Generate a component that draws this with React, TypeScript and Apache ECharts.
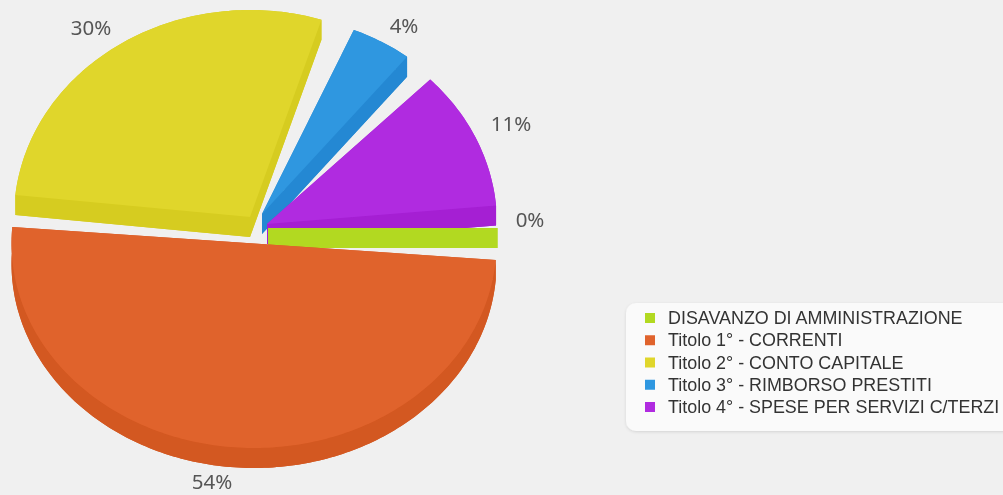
import React, { useEffect, useRef } from "react";
import * as echarts from "echarts";

// Data
const categories = [
  "DISAVANZO DI AMMINISTRAZIONE",
  "Titolo 1° - CORRENTI",
  "Titolo 2° - CONTO CAPITALE",
  "Titolo 3° - RIMBORSO PRESTITI",
  "Titolo 4° - SPESE PER SERVIZI C/TERZI",
];
const percentLabels = ["0%", "54%", "30%", "4%", "11%"];
// Drawn share of the pie of each slice (percent of the full turn), as it looks in the picture
const drawnShares = [0, 50, 28.2, 4.2, 11];

// Styles
const topColors = ["#B2D921", "#E0632C", "#E0D62B", "#2F97E0", "#B02BE0"];
const wallColors = ["#B2D921", "#D35821", "#D6CC20", "#2488D3", "#A51FD3"];

// Layout: where each exploded slice sits
const startAngles = [0, 4.6, 186.1, 293, 315.2];
const tipX = [268, 254, 250, 262, 267];
const tipY = [228, 243.5, 217, 214, 224];
const radX = [229.5, 242.5, 236, 235, 230];
const radY = [205, 204.5, 207, 200, 205];
const labelX = [530, 212, 91, 404, 511];
const labelY = [219, 481, 27, 25, 123];
const zOrder = [4, 5, 1, 2, 3];
const DEPTH = 20;

function App() {
  const ref = useRef<HTMLDivElement>(null);
  useEffect(() => {
    const chart = echarts.init(ref.current!, null, { renderer: "svg" });
    const makeRender = (i: number) => () => {
      const sweep = (drawnShares[i] / 100) * 360;
      const steps = Math.max(1, Math.ceil(sweep));
      const arc: [number, number][] = [];
      for (let s = 0; s <= steps; s++) {
        const a = ((startAngles[i] + (sweep * s) / steps) * Math.PI) / 180;
        arc.push([tipX[i] + radX[i] * Math.cos(a), tipY[i] + radY[i] * Math.sin(a)]);
      }
      const tip: [number, number] = [tipX[i], tipY[i]];
      const down = (p: [number, number]) => [p[0], p[1] + DEPTH];
      const wallStyle = { fill: wallColors[i] };
      const first = arc[0];
      const last = arc[arc.length - 1];
      const children: any[] = [
        { type: "polygon", shape: { points: [tip, ...arc].map(down) }, style: wallStyle },
        { type: "polygon", shape: { points: [tip, first, down(first), down(tip)] }, style: wallStyle },
        { type: "polygon", shape: { points: [tip, last, down(last), down(tip)] }, style: wallStyle },
        { type: "polygon", shape: { points: [...arc, ...arc.map(down).reverse()] }, style: wallStyle },
        { type: "polygon", shape: { points: [tip, ...arc] }, style: { fill: topColors[i] } },
        {
          type: "text",
          x: labelX[i],
          y: labelY[i],
          z2: 10,
          style: {
            text: percentLabels[i],
            fill: "#555555",
            font: '20.5px "Noto Sans"',
            textAlign: "center",
            textVerticalAlign: "middle",
          },
        },
      ];
      return { type: "group", children };
    };
    chart.setOption({
      animation: false,
      backgroundColor: "#F0F0F0",
      legend: {
        show: true,
        orient: "vertical",
        left: 626,
        top: 303,
        data: categories,
        icon: "rect",
        itemWidth: 10,
        itemHeight: 10,
        itemGap: 4.25,
        padding: [6, 40, 15, 19],
        backgroundColor: "#FAFAFA",
        borderRadius: 10,
        shadowColor: "rgba(0,0,0,0.12)",
        shadowBlur: 3,
        shadowOffsetY: 1,
        selectedMode: false,
        textStyle: {
          color: "#333333",
          fontFamily: "Liberation Sans",
          fontSize: 17.9,
          lineHeight: 18,
          padding: [0, 0, 0, 8],
        },
      },
      series: categories.map((name, i) => ({
        type: "custom",
        name,
        coordinateSystem: "none",
        z: zOrder[i],
        clip: false,
        silent: true,
        itemStyle: { color: topColors[i] },
        data: [[drawnShares[i]]],
        renderItem: makeRender(i),
      })),
    });
    return () => chart.dispose();
  }, []);
  return (
    <div
      ref={ref}
      style={{ position: "fixed", left: 0, top: 0, width: 1003, height: 495, filter: "blur(0.5px)" }}
    />
  );
}

export default App;
